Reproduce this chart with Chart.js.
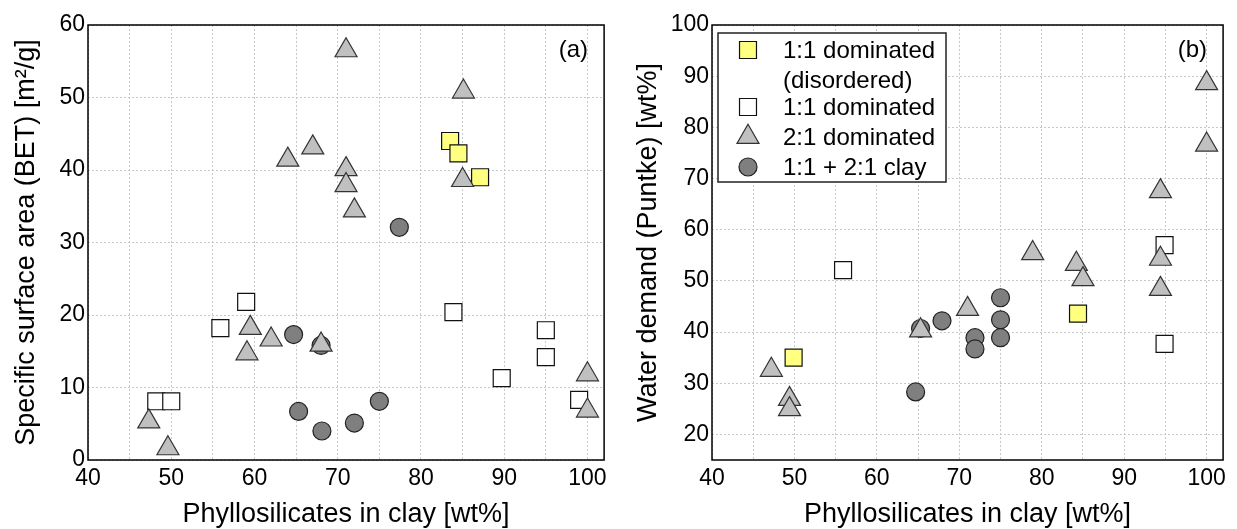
<!DOCTYPE html>
<html>
<head>
<meta charset="utf-8">
<script src="https://cdn.jsdelivr.net/npm/chart.js@4.4.0/dist/chart.umd.min.js"></script>
<style>
  html, body { margin: 0; padding: 0; background: #fff; }
  #wrap { position: relative; width: 1237px; height: 529px; }
  canvas { position: absolute; top: 0; }
</style>
</head>
<body>
<div id="wrap">
  <canvas id="chartA" width="618" height="529" style="left:0"></canvas>
  <canvas id="chartB" width="619" height="529" style="left:618px"></canvas>
</div>
<script>
// ticks
var xTicks = [40, 45, 50, 55, 60, 65, 70, 75, 80, 85, 90, 95, 100];
var yTicksA = [0, 10, 20, 30, 40, 50, 60];
var yTicksB = [20, 30, 40, 50, 60, 70, 80, 90, 100];

var seriesNames = ['1:1 dominated', '1:1 dominated', '2:1 dominated', '1:1 + 2:1 clay'];

// panel (a) - specific surface area
var aYellowX = [83.5, 84.5, 87.1];
var aYellowY = [44.0, 42.3, 39.0];
var aWhiteX = [59.0, 55.9, 48.2, 50.0, 83.9, 95.0, 95.0, 89.7, 99.0];
var aWhiteY = [21.8, 18.2, 8.1, 8.1, 20.4, 17.9, 14.2, 11.3, 8.3];
var aTriX = [71.0, 85.1, 67.0, 64.0, 71.0, 71.0, 72.0, 85.0, 59.5, 59.1, 62.0, 68.0, 47.3, 49.6, 100, 100];
var aTriY = [56.5, 50.8, 43.1, 41.4, 40.1, 37.9, 34.4, 38.6, 18.2, 14.7, 16.6, 15.9, 5.3, 1.6, 11.8, 6.8];
var aCircX = [77.4, 64.7, 68.0, 65.3, 68.1, 72.0, 75.0];
var aCircY = [32.1, 17.3, 15.8, 6.7, 4.0, 5.1, 8.1];

// panel (b) - water demand
var bYellowX = [49.9, 84.4];
var bYellowY = [35.0, 43.6];
var bWhiteX = [55.9, 94.9, 94.9];
var bWhiteY = [52.1, 57.0, 37.7];
var bTriX = [100, 100, 94.4, 94.4, 94.4, 78.9, 84.2, 85.0, 71.0, 65.3, 47.2, 49.4, 49.4];
var bTriY = [88.6, 76.6, 67.5, 54.3, 48.4, 55.4, 53.3, 50.3, 44.5, 40.3, 32.6, 26.9, 24.9];
var bCircX = [65.3, 67.9, 71.9, 71.9, 75.0, 75.0, 75.0, 64.7];
var bCircY = [40.7, 42.2, 38.9, 36.7, 46.7, 42.4, 38.9, 28.3];

var FONT = '"Liberation Sans", Arial, sans-serif';
Chart.defaults.font.family = FONT;
Chart.defaults.color = '#000';

function pts(xs, ys) {
    return xs.map((x, i) => ({ x: x, y: ys[i] }));
}

function makeDatasets(yx, yy, wx, wy, tx, ty, cx, cy) {
    return [
        { label: seriesNames[0], data: pts(yx, yy), pointStyle: 'rect', pointRadius: 12,
          backgroundColor: '#ffff80', borderColor: '#111', borderWidth: 1.2, order: 1 },
        { label: seriesNames[1], data: pts(wx, wy), pointStyle: 'rect', pointRadius: 12,
          backgroundColor: '#ffffff', borderColor: '#111', borderWidth: 1.2, order: 2 },
        { label: seriesNames[2], data: pts(tx, ty), pointStyle: 'triangle', pointRadius: 12.7,
          backgroundColor: '#c0c0c0', borderColor: '#333', borderWidth: 1.2, order: 0 },
        { label: seriesNames[3], data: pts(cx, cy), pointStyle: 'circle', pointRadius: 9,
          backgroundColor: '#7f7f7f', borderColor: '#222', borderWidth: 1.2, order: 3 }
    ];
}

// frame round the plot area + panel tag
var framePlugin = {
    id: 'frame',
    beforeDatasetsDraw(chart, args, opts) {
        var a = chart.chartArea, ctx = chart.ctx;
        ctx.save();
        ctx.strokeStyle = '#000';
        ctx.lineWidth = 1.5;
        ctx.strokeRect(a.left, a.top, a.right - a.left, a.bottom - a.top);
        ctx.font = '24px ' + FONT;
        ctx.fillStyle = '#000';
        ctx.textAlign = 'right';
        ctx.textBaseline = 'middle';
        ctx.fillText(opts.tag, a.right - 16, a.top + 25);
        ctx.restore();
    }
};

// legend box drawn inside panel (b)
var legendRows = [
    { text: '1:1 dominated', ds: 0 },
    { text: '(disordered)', ds: null },
    { text: '1:1 dominated', ds: 1 },
    { text: '2:1 dominated', ds: 2 },
    { text: '1:1 + 2:1 clay', ds: 3 }
];
var rowOffsets = [25, 55, 82, 112, 142];

var boxLegend = {
    id: 'boxLegend',
    afterDatasetsDraw(chart, args, opts) {
        if (!opts.show) return;
        var a = chart.chartArea, ctx = chart.ctx;
        var bx = a.left + 6, by = a.top + 8;
        ctx.save();
        ctx.fillStyle = '#fff';
        ctx.fillRect(bx, by, 228, 149);
        ctx.strokeStyle = '#222';
        ctx.lineWidth = 1.5;
        ctx.strokeRect(bx, by, 228, 149);
        ctx.font = '24px ' + FONT;
        ctx.textBaseline = 'middle';
        legendRows.forEach(function (row, i) {
            var y = a.top + rowOffsets[i];
            if (row.ds !== null) {
                var d = chart.data.datasets[row.ds];
                ctx.fillStyle = d.backgroundColor;
                ctx.strokeStyle = d.borderColor;
                ctx.lineWidth = d.borderWidth;
                Chart.helpers.drawPoint(ctx, {
                    pointStyle: d.pointStyle, radius: d.pointRadius,
                    rotation: 0, borderWidth: d.borderWidth
                }, a.left + 36, y);
            }
            ctx.fillStyle = '#000';
            ctx.textAlign = 'left';
            ctx.fillText(row.text, a.left + 71, y + 1);
        });
        ctx.restore();
    }
};

function makeChart(id, datasets, yMin, yMax, yTicks, yTitle, tag, yWidth, titlePad, padRight, legend) {
    var ctx = document.getElementById(id).getContext('2d');
    return new Chart(ctx, {
        type: 'scatter',
        data: { datasets: datasets },
        plugins: [framePlugin, boxLegend],
        options: {
            responsive: false,
            animation: false,
            events: [],
            layout: { padding: { left: 0, right: padRight, top: 25, bottom: 0 } },
            plugins: {
                legend: { display: false },
                tooltip: { enabled: false },
                frame: { tag: tag },
                boxLegend: { show: legend }
            },
            scales: {
                x: {
                    type: 'linear', min: 40, max: 102,
                    afterBuildTicks: s => { s.ticks = xTicks.map(v => ({ value: v })); },
                    afterFit: s => { s.height = 69; },
                    ticks: {
                        font: { size: 23 }, padding: 5, maxRotation: 0, autoSkip: false,
                        callback: v => (v % 10 === 0 ? v : '')
                    },
                    grid: { color: '#c8c8c8', lineWidth: 1, drawTicks: false },
                    border: { display: false, dash: [2, 2] },
                    title: {
                        display: true, text: 'Phyllosilicates in clay [wt%]',
                        font: { size: 27, lineHeight: 1.05 }, padding: { top: 0, bottom: 0 }
                    }
                },
                y: {
                    type: 'linear', min: yMin, max: yMax,
                    afterBuildTicks: s => { s.ticks = yTicks.map(v => ({ value: v })); },
                    afterFit: s => { s.width = yWidth; },
                    ticks: { font: { size: 23 }, padding: 3, autoSkip: false },
                    grid: { color: '#c8c8c8', lineWidth: 1, drawTicks: false },
                    border: { display: false, dash: [2, 2] },
                    title: {
                        display: true, text: yTitle,
                        font: { size: 27, lineHeight: 1.05 }, padding: { top: titlePad, bottom: 0 }
                    }
                }
            }
        }
    });
}

makeChart('chartA', makeDatasets(aYellowX, aYellowY, aWhiteX, aWhiteY, aTriX, aTriY, aCircX, aCircY),
    0, 60, yTicksA, 'Specific surface area (BET) [m\u00b2/g]', '(a)', 88, 12, 9, false);

makeChart('chartB', makeDatasets(bYellowX, bYellowY, bWhiteX, bWhiteY, bTriX, bTriY, bCircX, bCircY),
    15, 100, yTicksB, 'Water demand (Puntke) [wt%]', '(b)', 94, 16, 4, true);
</script>
</body>
</html>
